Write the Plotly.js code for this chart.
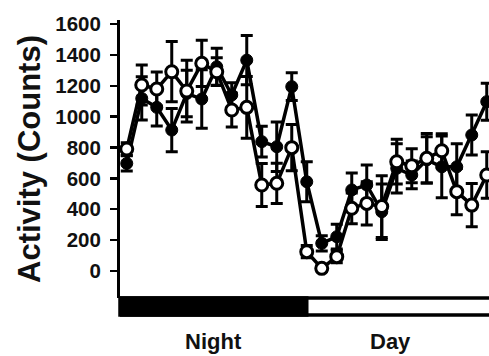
<!DOCTYPE html>
<html><head><meta charset="utf-8">
<script src="https://cdn.plot.ly/plotly-3.0.1.min.js"></script>
<style>html,body{margin:0;padding:0;background:#fff}#chart{width:489px;height:356px}</style>
</head><body><div id="chart"></div>
<script>
const hours = [0,1,2,3,4,5,6,7,8,9,10,11,12,13,14,15,16,17,18,19,20,21,22,23,24];
const filledVals = [697,1118,1060,913,1150,1114,1323,1140,1366,838,805,1194,578,179,222,525,557,384,665,622,720,675,675,881,1097];
const filledErr  = [50,140,120,140,150,190,120,80,160,100,160,90,130,50,80,110,130,180,160,90,150,200,150,130,120];
const openVals   = [790,1205,1179,1291,1166,1345,1291,1043,1060,557,568,799,125,17,93,406,438,417,708,682,730,779,514,427,622];
const openErr    = [40,130,110,195,200,150,90,110,200,140,130,150,40,20,40,100,140,200,145,110,160,110,150,140,150];
const yTicks = [0,200,400,600,800,1000,1200,1400,1600];
const periodLabels = ['Night','Day'];
const periodCenters = [5.75,17.6];
const nightEnd = 12;

const fontFam = 'Liberation Sans, Arial, Helvetica, sans-serif';

const traces = [
  {x: hours, y: filledVals, type:'scatter', mode:'lines+markers',
   line:{color:'#000', width:3.5},
   marker:{symbol:'circle', size:12, color:'#000', line:{color:'#000', width:1}},
   error_y:{type:'data', array: filledErr, visible:true, color:'#000', thickness:3, width:6},
   cliponaxis:false, hoverinfo:'skip'},
  {x: hours, y: openVals, type:'scatter', mode:'lines+markers',
   line:{color:'#000', width:3.5},
   marker:{symbol:'circle', size:12, color:'#fff', line:{color:'#000', width:3}},
   error_y:{type:'data', array: openErr, visible:true, color:'#000', thickness:3, width:6},
   cliponaxis:false, hoverinfo:'skip'}
];

const annotations = periodLabels.map((t,i)=>({
  text: t, x: periodCenters[i], xref:'x', y: -0.155, yref:'paper',
  showarrow:false, xanchor:'center', yanchor:'middle',
  font:{family:fontFam, size:22, weight:'bold', color:'#111'}
}));

const layout = {
  width:489, height:356,
  margin:{l:120, r:0, t:20, b:58, pad:0},
  paper_bgcolor:'#fff', plot_bgcolor:'#fff',
  showlegend:false,
  xaxis:{range:[-0.45,24.15], showgrid:false, zeroline:false, showticklabels:false,
         ticks:'', showline:false, fixedrange:true},
  yaxis:{range:[-175,1626], tickvals:yTicks, ticktext:yTicks.map(String),
         ticks:'outside', ticklen:7, tickwidth:2.5, tickcolor:'#000',
         showline:true, linewidth:3, linecolor:'#000', showgrid:false, zeroline:false,
         tickfont:{family:fontFam, size:20.5, weight:'bold', color:'#111'},
         ticklabelstandoff:5,
         title:{text:'Activity (Counts)', font:{family:fontFam, size:31, weight:'bold', color:'#111'}, standoff:6}},
  shapes:[
    {type:'rect', xref:'paper', yref:'paper', x0:0, x1:1.01, y0:-0.061, y1:0,
     fillcolor:'#fff', line:{color:'#000', width:3.5}},
    {type:'rect', xref:'x', x0:-0.45, x1:nightEnd, yref:'paper', y0:-0.061, y1:0,
     fillcolor:'#000', line:{color:'#000', width:3.5}}
  ],
  annotations: annotations
};

Plotly.newPlot('chart', traces, layout, {staticPlot:true, displayModeBar:false});
</script></body></html>
